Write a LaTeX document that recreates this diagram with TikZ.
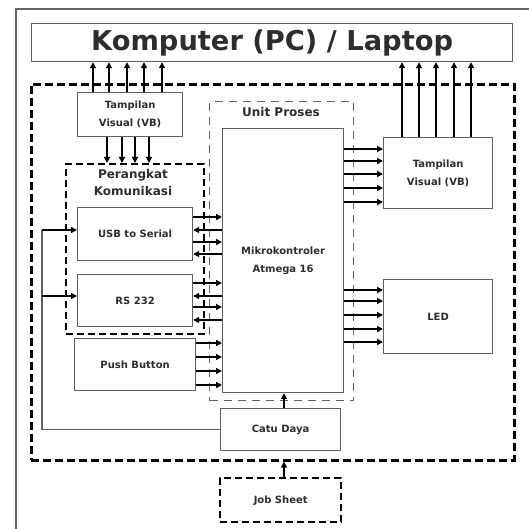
\documentclass[tikz,border=0pt]{standalone}
\usepackage{fontspec}
\setmainfont{DejaVu Sans}
\usetikzlibrary{arrows.meta}
\definecolor{boxgray}{RGB}{95,95,95}
\definecolor{txt}{RGB}{45,45,45}
\definecolor{framegray}{RGB}{100,100,100}
\tikzset{
  box/.style={draw=boxgray, line width=1.2pt, rectangle, anchor=north west, inner sep=0pt,
    font=\bfseries\fontsize{10}{18}\selectfont, text=txt, align=center},
  dbox/.style={draw=black, line width=2.2pt, dash pattern=on 7pt off 4pt, rectangle, anchor=north west, inner sep=0pt,
    font=\bfseries\fontsize{10}{18}\selectfont, text=txt, align=center},
  tbox/.style={draw=boxgray, line width=1.2pt, dash pattern=on 8pt off 6pt, rectangle, anchor=north west, inner sep=0pt},
  lbl/.style={font=\bfseries\fontsize{12}{17}\selectfont, text=txt, align=center, inner sep=0pt},
  arr/.style={draw=black, line width=1.5pt, -{Triangle[length=6pt,width=6pt]}},
  plain/.style={draw=black, line width=1.5pt},
  feed/.style={draw=boxgray, line width=1.2pt},
}
\newcommand\mybox[7]{\node[#6, minimum width={#4pt-#2pt}, minimum height={#5pt-#3pt}] (#1) at (#2,#3) {#7};}
\begin{document}
\begin{tikzpicture}[x=1pt,y=-1pt]
\useasboundingbox (0,0) rectangle (529,529);
% page frame
\draw[framegray, line width=1.5pt] (16,529) -- (16,9) -- (529,9);
% boxes
\mybox{pc}{31}{23}{512}{61}{box, font=\bfseries\fontsize{27.3}{30}\selectfont}{Komputer (PC) / Laptop}
\mybox{outer}{30}{83}{513}{459}{dbox, line width=2.6pt, dash pattern=on 8pt off 4pt}{}
\mybox{tvl}{77}{92}{182}{136}{box}{Tampilan\\Visual (VB)}
\mybox{kom}{65}{163}{203}{333}{dbox}{}
\node[lbl] (komlbl) at (133,183) {Perangkat\\Komunikasi};
\mybox{usb}{77}{207}{192}{260}{box}{USB to Serial}
\mybox{rs}{77}{274}{192}{326}{box}{RS 232}
\mybox{push}{74}{338}{195}{390}{box}{Push Button}
\mybox{unit}{209}{101}{353}{400}{tbox}{}
\node[lbl] (unitlbl) at (281,112) {Unit Proses};
\mybox{mikro}{222}{128}{343}{392}{box}{Mikrokontroler\\Atmega 16}
\mybox{tvr}{383}{137}{492}{208}{box}{Tampilan\\Visual (VB)}
\mybox{led}{383}{279}{492}{353}{box}{LED}
\mybox{catu}{220}{408}{340}{450}{box}{Catu Daya}
\mybox{job}{219}{477}{340}{521}{dbox, line width=2.4pt}{Job Sheet}
% tampilan left -> PC
\foreach \x in {93,109,127,144,162}
  \draw[arr] (tvl.north -| \x,0) -- (pc.south -| \x,0);
% tampilan left -> perangkat
\foreach \x in {107,122,135,149}
  \draw[arr] (tvl.south -| \x,0) -- (kom.north -| \x,0);
% tampilan right -> PC
\foreach \x in {402,419,436,454,471}
  \draw[arr] (tvr.north -| \x,0) -- (pc.south -| \x,0);
% mikro -> tampilan right
\foreach \y in {149,161,174,188,202}
  \draw[arr] (mikro.east |- 0,\y) -- (tvr.west |- 0,\y);
% mikro -> LED
\foreach \y in {290,301,315,329,342}
  \draw[arr] (mikro.east |- 0,\y) -- (led.west |- 0,\y);
% USB <-> mikro
\foreach \y in {217,242}
  \draw[arr] (usb.east |- 0,\y) -- (mikro.west |- 0,\y);
\foreach \y in {230,254}
  \draw[arr] (mikro.west |- 0,\y) -- (usb.east |- 0,\y);
% RS232 <-> mikro
\foreach \y in {283,307}
  \draw[arr] (rs.east |- 0,\y) -- (mikro.west |- 0,\y);
\foreach \y in {296,320}
  \draw[arr] (mikro.west |- 0,\y) -- (rs.east |- 0,\y);
% push -> mikro
\foreach \y in {343,357,371,385}
  \draw[arr] (push.east |- 0,\y) -- (mikro.west |- 0,\y);
% catu -> mikro
\draw[arr] (catu.north -| 284,0) -- (mikro.south -| 284,0);
% job -> outer
\draw[arr] (job.north -| 284,0) -- (outer.south -| 284,0);
% feed line
\coordinate (fu) at (42,230);
\coordinate (fr) at (42,296);
\draw[feed] (catu.west) -| (fu);
\draw[arr] (fu) -- (usb.west |- fu);
\draw[arr] (fr) -- (rs.west |- fr);
\end{tikzpicture}
\end{document}
